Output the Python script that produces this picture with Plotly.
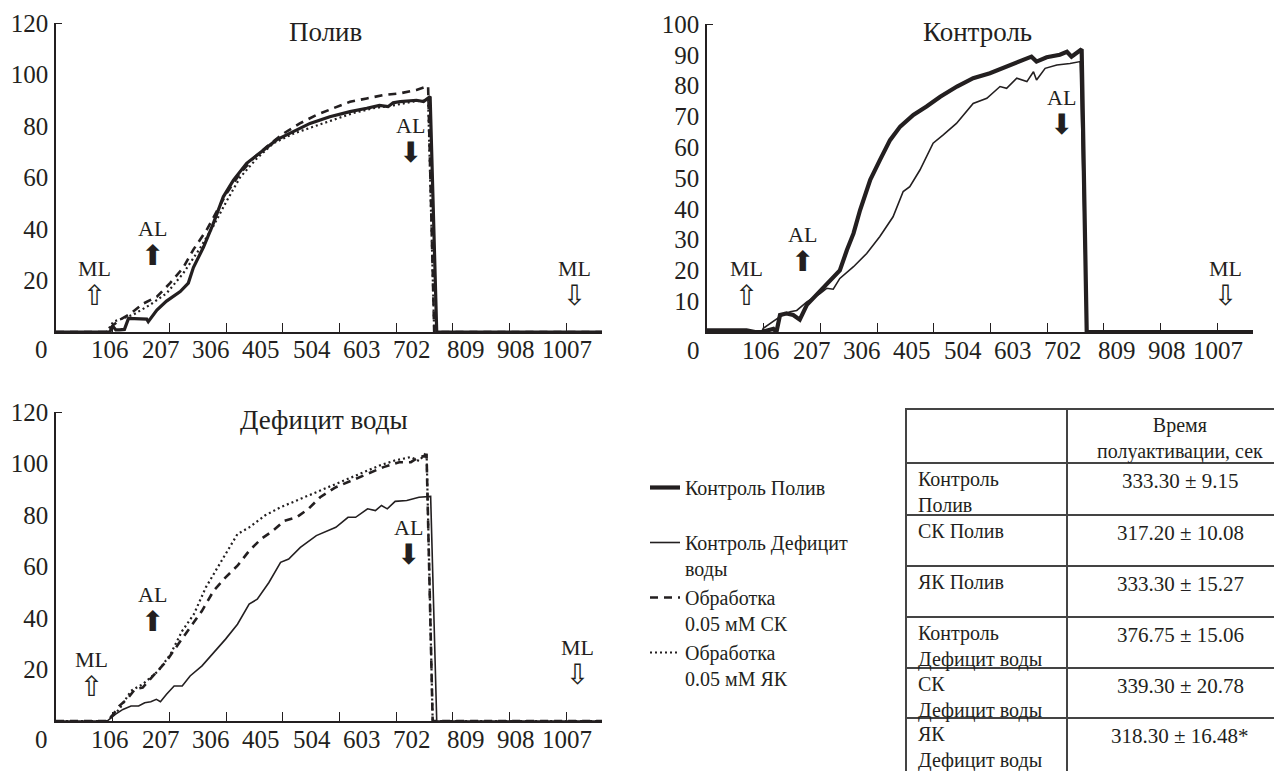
import plotly.graph_objects as go

# page is rendered with an 8px body margin: figure covers page px 8..1282 / 8..771
OFF = 8
W, H = 1282 - OFF, 771 - OFF
INK = "#231f20"
SERIF = "Liberation Serif"
SYM = "DejaVu Sans"

# ---------------- data ----------------
x_labels = ["106", "207", "306", "405", "504", "603", "702", "809", "908", "1007"]
x_label_vals = [106, 207, 306, 405, 504, 603, 702, 809, 908, 1007]
titles = ["Полив", "Контроль", "Дефицит воды"]

# Panel 1: Полив
ctrl_pol_t = [0, 106, 112, 118, 125, 135, 143, 160, 179, 182, 199, 218, 245, 261, 271, 291, 310, 330, 350, 376,
              409, 435, 468, 501, 540, 580, 613, 638, 655, 665, 679, 711, 725, 738, 751, 1077]
ctrl_pol_v = [0, 0, 2.3, 0.8, 0.8, 1, 5.3, 5.3, 5, 4, 8.5, 12, 15.7, 19, 25, 33, 42, 52.5, 59, 65.5,
              70.7, 74.6, 77.8, 81, 83.6, 85.6, 86.9, 88, 87.5, 89, 89.5, 90, 89.5, 91.4, 0, 0]
sk_pol_t = [0, 100, 113, 126, 146, 172, 199, 225, 251, 271, 297, 317, 337, 363, 389, 416, 448, 481, 514,
            547, 580, 613, 646, 679, 711, 734, 746, 1077]
sk_pol_v = [0, 0, 2.7, 4.7, 7, 11, 13.7, 19, 25, 32, 39.6, 47, 54, 61.6, 67.4, 72, 77, 81, 84.3,
            86.9, 89.4, 90.7, 92, 92.7, 94, 95.5, 0, 0]
yk_pol_t = [0, 100, 113, 152, 185, 218, 251, 284, 310, 337, 363, 396, 429, 468, 507, 547, 586, 626, 665,
            705, 734, 746, 1077]
yk_pol_v = [0, 0, 4, 6.7, 10.5, 15, 22.8, 32.5, 41, 51, 60, 67.4, 73.3, 77, 79.7, 82.3, 85, 86.9, 88,
            89.5, 90, 0, 0]

# Panel 2: Контроль
ctrl_pol2_t = [0, 78, 95, 108, 131, 137, 144, 157, 170, 183, 197, 210, 223, 243, 262, 276, 289, 302, 322,
               341, 361, 381, 407, 433, 460, 493, 525, 558, 591, 624, 640, 650, 670, 696, 710, 719, 739, 749, 1077]
ctrl_pol2_v = [0.5, 0.5, 0, 0, 1, 0, 5.5, 6, 5.5, 4, 8.8, 11, 13, 16.3, 20, 26.6, 32, 39.6, 49.4,
               55.8, 62.3, 66.7, 70.5, 73.2, 76.4, 79.7, 82.4, 84, 86.1, 88.3, 89.4, 87.8, 89.2, 90, 91, 89.4, 91.8, 0, 0]
ctrl_def2_t = [0, 78, 108, 111, 144, 164, 177, 197, 223, 236, 249, 262, 289, 315, 341, 367, 387, 400, 420,
               446, 466, 492, 525, 552, 578, 591, 611, 631, 644, 650, 667, 690, 716, 736, 749, 1077]
ctrl_def2_v = [0.5, 0.5, 0, 1.2, 5, 6.6, 7, 9.8, 12.5, 14.2, 13.9, 17.4, 21.2, 25.5, 31, 37.4, 45.6, 47.2, 52.6,
               61.3, 64, 67.7, 74.2, 75.9, 79.7, 79.1, 82.4, 81.3, 84.5, 81.8, 85.6, 86.7, 87.2, 87.8, 0, 0]

# Panel 3: Дефицит воды
ctrl_def_t = [0, 101, 117, 132, 148, 163, 175, 187, 198, 206, 218, 233, 249, 264.5, 288, 311, 334.5, 358, 381,
              397, 420, 443, 459, 482, 513.5, 552, 576, 591, 614.6, 630, 642, 653.5, 669, 692, 716, 739, 751, 1077]
ctrl_def_v = [0, 0, 2.6, 4.5, 5.8, 5.8, 7.1, 7.5, 8.4, 7.5, 10.4, 13.6, 13.6, 17.5, 21.4, 26.6, 31.8, 37.6, 45.4,
              47.3, 53.8, 61.6, 62.9, 67.4, 72, 75.2, 79.1, 79.1, 82.4, 81.7, 83.7, 82.4, 85.3, 85.6, 86.9, 87.2, 0, 0]
sk_def_t = [0, 101, 113, 124.5, 140, 155.6, 171, 194.5, 218, 241, 264.5, 288, 311, 334.5, 358, 381, 404.6,
            428, 451, 474.6, 498, 521, 552, 583.5, 614.6, 646, 677, 700, 716, 731, 743, 1077]
sk_def_v = [0, 0, 2.6, 5.8, 8.4, 12.3, 13, 18.2, 23.3, 29.8, 36.3, 42.8, 50.6, 55.8, 60.3, 66.1, 70.7,
            73.9, 77.8, 79.1, 82.4, 86.9, 90.8, 93.4, 96, 98.6, 100.5, 100.5, 102.5, 103, 0, 0]
yk_def_t = [0, 101, 124.5, 148, 171, 202, 225.6, 249, 272, 295.6, 319, 342, 358, 381, 412, 443, 482, 521,
            560, 599, 638, 669, 700, 716, 731, 743, 1077]
yk_def_v = [0, 0, 4.5, 11.7, 14.3, 19.5, 25.9, 35, 41.5, 51.9, 59.7, 67.4, 72.6, 75.2, 79.8, 83, 86.3, 89.5,
            92.7, 96, 99.2, 101.2, 102.5, 101, 104.4, 0, 0]

legend_names = ["Контроль Полив<br>&nbsp;", "Контроль Дефицит<br>воды",
                "Обработка<br>0.05 мМ СК", "Обработка<br>0.05 мМ ЯК"]

table_header = ["", "Время<br>полуактивации, сек"]
table_rows = ["Контроль<br>Полив", "СК Полив", "ЯК Полив",
              "Контроль<br>Дефицит воды", "СК<br>Дефицит воды", "ЯК<br>Дефицит воды"]
table_vals = ["333.30 ± 9.15", "317.20 ± 10.08", "333.30 ± 15.27",
              "376.75 ± 15.06", "339.30 ± 20.78", "318.30 ± 16.48*"]

# ---------------- styles ----------------
THICK1 = dict(color=INK, width=3.2)
THICK2 = dict(color=INK, width=4.2)
THIN = dict(color=INK, width=1.6)
DASH = dict(color=INK, width=2.6, dash="8px,6px")
DOT = dict(color=INK, width=2.2, dash="2px,3px")

fig = go.Figure()


def add(t, v, line, ax, name, rank, show):
    fig.add_trace(go.Scatter(
        x=t, y=v, mode="lines", line=line, xaxis="x" + ax, yaxis="y" + ax,
        name=name, legendgroup=name, legendrank=rank, showlegend=show,
        cliponaxis=False, hoverinfo="skip"))


add(ctrl_pol_t, ctrl_pol_v, THICK1, "", legend_names[0], 1, False)
add(sk_pol_t, sk_pol_v, DASH, "", legend_names[2], 3, True)
add(yk_pol_t, yk_pol_v, DOT, "", legend_names[3], 4, True)
add(ctrl_def2_t, ctrl_def2_v, THIN, "2", legend_names[1], 2, True)
add(ctrl_pol2_t, ctrl_pol2_v, THICK2, "2", legend_names[0], 1, True)
add(ctrl_def_t, ctrl_def_v, THIN, "3", legend_names[1], 2, False)
add(sk_def_t, sk_def_v, DASH, "3", legend_names[2], 3, False)
add(yk_def_t, yk_def_v, DOT, "3", legend_names[3], 4, False)


# ---------------- layout helpers (page pixels -> paper) ----------------
def fx(px):
    return (px - OFF) / W


def fy(py):
    return 1 - (py - OFF) / H


TICK_STEP = 111.8
XMAX = 1077


def xaxis(x0, x1, anchor):
    return dict(
        domain=[fx(x0), fx(x1)], range=[0, XMAX], anchor=anchor, automargin=False,
        showgrid=False, zeroline=False, showline=True, linecolor=INK, linewidth=1.5,
        showticklabels=False, ticks="",
        minor=dict(tickmode="array", tickvals=[TICK_STEP * k for k in range(1, 10)],
                   ticks="inside", ticklen=9, tickwidth=1, tickcolor=INK),
    )


def yaxis(y0, y1, top, step, anchor):
    return dict(
        domain=[fy(y0), fy(y1)], range=[0, top], anchor=anchor, automargin=False,
        showgrid=False, zeroline=False, showline=True, linecolor=INK, linewidth=1.5,
        tickmode="array", tickvals=list(range(step, top + 1, step)), ticks="",
        ticklabelstandoff=1,
        tickfont=dict(family=SERIF, size=25, color=INK),
        minor=dict(tickmode="array", tickvals=[top], ticks="inside", ticklen=6,
                   tickwidth=1.2, tickcolor=INK),
    )


annotations = []


def txt(x, y, s, size, xref="paper", yref="paper", family=SERIF, xanchor="center",
        yanchor="middle", xshift=0, yshift=0, align="center"):
    annotations.append(dict(x=x, y=y, xref=xref, yref=yref, text=s, showarrow=False,
                            font=dict(family=family, size=size, color=INK), align=align,
                            xanchor=xanchor, yanchor=yanchor, xshift=xshift, yshift=yshift))


# titles
txt(fx(325), fy(32), titles[0], 27)
txt(fx(977), fy(32), titles[1], 27)
txt(fx(324), fy(420), titles[2], 27)

# x tick labels (placed below each axis)
for ax in ["", "2", "3"]:
    for v, s in zip(x_label_vals, x_labels):
        txt(v, 0, s, 25, xref="x" + ax, yref="y" + ax + " domain", yshift=-18)
    txt(0, 0, "0", 25, xref="x" + ax, yref="y" + ax + " domain", yshift=-18, xshift=-14)

UP_W, DN_W, UP_B, DN_B = "⇧", "⇩", "⬆", "⬇"
marks = [
    # (axis, x, label y, arrow y, label, arrow)
    ("", 75, 23.3, 13.6, "ML", UP_W),
    ("", 191, 39.6, 29.1, "AL", UP_B),
    ("", 700, 79.2, 69.5, "AL", DN_B),
    ("", 1022, 23.3, 13.6, "ML", DN_W),
    ("2", 77, 19.5, 11.4, "ML", UP_W),
    ("2", 189, 30.8, 22.4, "AL", UP_B),
    ("2", 700, 75.3, 67.2, "AL", DN_B),
    ("2", 1022, 19.5, 11.4, "ML", DN_W),
    ("3", 70, 22.9, 12.8, "ML", UP_W),
    ("3", 191, 48.2, 37.7, "AL", UP_B),
    ("3", 696, 74.2, 64.3, "AL", DN_B),
    ("3", 1028, 28.0, 16.9, "ML", DN_W),
]
for ax, xl, yl, ya, lab, arr in marks:
    s = f"{lab}<br><span style='font-family:{SYM};font-size:28px'>{arr}</span>"
    txt(xl, (yl + ya) / 2, s, 22, xref="x" + ax, yref="y" + ax)

# ---------------- table (grid drawn by an auxiliary axis pair, 1 unit = 1 px) ----------------
T_LEFT, T_TOP = 907, 410
col_edges = [160]
row_edges = [0, 53, 105, 156, 207, 258, 308]
T_W = 1282 - T_LEFT
T_H = 771 - T_TOP
GRID_C = "#444444"

grid = dict(showgrid=True, gridcolor=GRID_C, gridwidth=1.5, zeroline=False,
            showline=True, linecolor=GRID_C, linewidth=1.5, mirror=False,
            showticklabels=False, ticks="", tickmode="array",
            automargin=False, fixedrange=True)
xaxis4 = dict(grid, domain=[fx(T_LEFT), 1.0], range=[0, T_W], tickvals=col_edges,
              anchor="y4", side="top")
yaxis4 = dict(grid, domain=[0, fy(T_TOP)], range=[T_H, 0], tickvals=row_edges[1:],
              anchor="x4", side="left")

COL2_CENTER = 273
TS = 20
txt(COL2_CENTER, row_edges[0] + 2, table_header[1], TS, xref="x4", yref="y4", yanchor="top")
for i, (lab, val) in enumerate(zip(table_rows, table_vals)):
    top = row_edges[i + 1] + 3
    txt(9, top, lab, TS, xref="x4", yref="y4", xanchor="left", yanchor="top", align="left")
    txt(COL2_CENTER, top + 1, val, TS + 1, xref="x4", yref="y4", yanchor="top")

# invisible trace so the auxiliary axes are drawn
fig.add_trace(go.Scatter(x=[None], y=[None], xaxis="x4", yaxis="y4", showlegend=False,
                         hoverinfo="skip"))

fig.update_layout(
    width=W, height=H, margin=dict(l=0, r=0, t=0, b=0),
    paper_bgcolor="white", plot_bgcolor="white",
    xaxis=xaxis(56, 602, "y"), yaxis=yaxis(332, 23, 120, 20, "x"),
    xaxis2=xaxis(707, 1253, "y2"), yaxis2=yaxis(332, 24, 100, 10, "x2"),
    xaxis3=xaxis(56, 602, "y3"), yaxis3=yaxis(721, 412, 120, 20, "x3"),
    xaxis4=xaxis4, yaxis4=yaxis4,
    annotations=annotations,
    showlegend=True,
    legend=dict(x=fx(645), y=fy(468), xanchor="left", yanchor="top", valign="top",
                bgcolor="rgba(0,0,0,0)", borderwidth=0, traceorder="normal",
                font=dict(family=SERIF, size=20, color=INK), itemclick=False),
)

fig.write_html("out.html")
